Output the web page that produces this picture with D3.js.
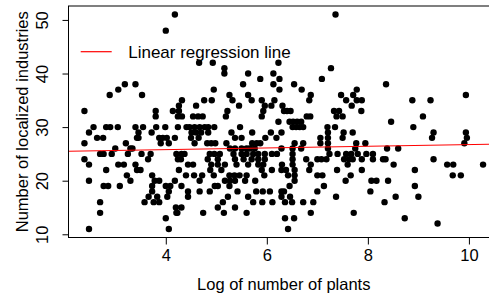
<!DOCTYPE html>
<html>
<head>
<meta charset="utf-8">
<script src="https://cdn.jsdelivr.net/npm/d3@7"></script>
<style>
  body { margin: 0; background: #fff; }
  svg { display: block; }
  text { font-family: "Liberation Sans", Arial, sans-serif; fill: #000; }
</style>
</head>
<body>
<svg id="chart" width="489" height="294"></svg>
<script>
// x: log of number of plants, y: number of localized industries (one entry per point, same order)
const logPlants = [
  4.0, 4.18, 7.36, 7.27, 7.09, 8.36, 9.94,
  2.39, 2.89, 3.06, 3.19, 3.4, 3.53, 3.8, 3.8,
  2.57, 2.48, 2.39, 2.64, 2.76, 2.82, 2.9, 3.05, 3.4, 3.55, 3.46, 3.46, 3.72, 3.81, 3.99,
  3.87, 3.94, 4.02, 3.9, 4.06, 4.18, 3.21, 3.3, 3.43, 3.0, 3.34,
  2.7, 2.77, 2.93, 3.25, 3.52, 3.7, 3.65, 2.39, 2.48, 2.82, 3.06, 3.17, 3.4, 3.43, 3.5, 3.23, 3.3, 2.48,
  2.77, 2.86, 3.09, 3.73, 3.78, 3.87, 3.73, 3.73, 4.0, 4.09, 4.06, 4.03,
  3.58, 3.66, 3.83, 3.87, 3.76, 2.7, 2.7, 2.48, 4.0, 4.06, 4.2, 4.21,
  4.66, 4.93, 5.16, 5.16, 5.63, 5.87, 6.13, 6.25, 6.13, 6.25, 5.53, 6.54, 6.69, 6.23,
  4.95, 4.76, 4.91, 4.6, 5.26, 5.32, 5.45, 5.63, 5.7, 5.9, 5.96, 6.09, 6.15, 5.9, 5.93, 5.19, 5.22, 6.34, 6.47, 6.4,
  6.23, 6.45, 6.52, 6.6, 6.68, 6.79, 6.86, 6.87, 6.84, 5.47, 6.31,
  4.54, 4.64, 4.73, 4.32, 4.26, 4.14, 4.26, 4.24, 4.32,
  4.24, 4.41, 4.47, 4.57, 4.67, 4.77, 4.84, 4.96,
  4.51, 4.6, 4.7, 4.84, 4.5, 4.65, 4.57,
  5.3, 5.37, 5.5, 5.71, 5.97, 6.08, 6.19, 6.29,
  4.82, 4.9, 4.98, 5.2, 5.27, 5.37, 5.71, 5.8, 5.87, 5.5, 5.6, 5.66, 5.76,
  4.21, 4.31, 4.37, 4.87, 4.96, 5.07, 5.34, 5.5, 5.6, 5.73, 5.83, 5.96, 6.1, 6.2,
  4.24, 4.3, 4.83, 5.03, 5.37, 5.54, 5.7, 5.83, 5.96,
  4.44, 4.54, 4.9, 5.03, 5.17, 5.4, 5.63, 5.83, 5.93, 6.3,
  4.26, 4.4, 4.56, 4.72, 4.88, 4.95, 5.1, 5.26, 5.36, 5.46, 5.6, 5.9, 5.95, 6.1,
  4.18, 4.67, 5.17, 5.27, 5.37, 5.57, 5.77,
  4.31, 4.44, 4.67, 4.87, 4.97, 5.03, 5.26, 5.42, 5.79, 5.92, 6.06, 6.29,
  4.44, 5.13, 5.23, 5.63, 5.73, 5.91, 6.11,
  5.37, 5.03, 5.15, 4.31, 4.23, 4.74, 5.6, 6.36,
  6.87, 6.54, 6.42, 6.72, 6.92, 7.0, 6.46, 6.5, 6.34,
  6.51, 6.58, 6.65, 6.72,
  7.21, 7.21, 7.06, 7.21, 7.06, 7.52, 7.5, 7.7, 7.77, 7.95,
  6.29, 6.55, 6.72, 6.51, 6.68,
  7.21, 7.24, 7.4, 7.57, 7.67, 7.75, 7.8, 7.97, 8.1, 8.1, 8.3, 8.38,
  6.51, 6.51, 6.51, 6.55, 6.55, 6.55,
  6.78, 7.0, 7.08, 7.18, 6.87, 6.84, 7.39, 7.53, 7.6, 7.63, 7.7, 7.88, 7.88,
  7.0, 7.1, 7.13, 7.56, 7.66, 8.07, 8.17, 8.4, 6.29, 6.38, 6.42,
  6.45, 6.29, 6.36, 7.37, 8.05, 7.72, 8.33,
  7.47, 7.57, 7.71, 7.78, 7.78, 7.88, 7.68, 7.87, 7.33, 7.43, 7.38, 7.5, 8.88, 9.24, 9.09, 8.46, 7.2, 7.35, 8.9,
  9.3, 9.27, 9.94, 9.96, 9.91, 8.6, 8.35, 8.51, 9.3, 9.57, 9.69, 10.28, 8.93, 9.68, 9.84, 8.93, 8.55, 9.0, 8.73, 9.38
];

const industries = [
  48, 51, 51, 41, 39, 38, 36,
  33, 36, 37, 38, 38, 36, 33, 32,
  30, 29, 27, 28, 28, 30, 30, 30, 30, 30, 29, 28, 29, 30, 30,
  28, 28, 28, 27, 27, 28, 27, 26, 28, 26, 26,
  25, 25, 25, 25, 25, 25, 24, 24, 23, 22, 23, 23, 23, 22, 22, 21, 20, 20,
  19, 19, 19, 21, 20, 20, 19, 18, 19, 19, 18, 17,
  16, 17, 17, 16, 16, 16, 14, 11, 13, 11, 15, 14,
  42, 42, 41, 40, 40, 39, 40, 39, 38, 37, 38, 38, 37, 42,
  37, 35, 35, 34, 36, 35, 34, 36, 35, 35, 34, 34, 35, 32, 33, 32, 33, 33, 33, 33,
  31, 31, 31, 31, 31, 32, 32, 36, 35, 30, 34,
  32, 32, 32, 35, 34, 33, 33, 32, 32,
  30, 30, 30, 30, 30, 30, 30, 30,
  29, 29, 29, 29, 28, 28, 27,
  29, 28, 28, 29, 28, 29, 28, 29,
  27, 27, 27, 27, 26, 26, 27, 27, 27, 26, 26, 26, 26,
  25, 25, 25, 25, 25, 25, 25, 25, 25, 25, 25, 25, 25, 25,
  24, 24, 24, 24, 24, 24, 24, 24, 24,
  23, 23, 23, 23, 23, 23, 23, 23, 23, 23,
  22, 21, 21, 21, 22, 21, 22, 21, 21, 21, 21, 22, 21, 22,
  20, 20, 20, 20, 20, 20, 20,
  19, 18, 18, 18, 19, 19, 19, 18, 18, 18, 18, 18,
  17, 16, 17, 17, 16, 16, 16,
  15, 15, 14, 15, 14, 14, 14, 13,
  14, 13, 11, 16, 16, 18, 17, 16, 18,
  30, 30, 30, 30,
  29, 28, 28, 27, 27, 29, 28, 29, 27, 27,
  26, 27, 27, 26, 26,
  26, 25, 25, 25, 25, 26, 25, 25, 25, 24, 24, 26,
  25, 24, 23, 22, 21, 20,
  24, 24, 24, 24, 23, 22, 22, 24, 23, 24, 24, 24, 22,
  21, 21, 19, 20, 21, 20, 20, 20, 22, 22, 21,
  19, 17, 16, 17, 18, 14, 16,
  36, 35, 36, 37, 35, 35, 34, 33, 33, 33, 32, 32, 35, 35, 32, 31, 30, 30, 30,
  29, 28, 29, 28, 27, 26, 24, 23, 24, 23, 23, 23, 22, 21, 21, 19, 17, 17, 13, 12
];

const xTicks = [4, 6, 8, 10];
const yTicks = [10, 20, 30, 40, 50];
const lmCoef = { intercept: 25.17, slope: 0.157 };
const legendLabel = "Linear regression line";

if (logPlants.length !== industries.length) console.error("length mismatch", logPlants.length, industries.length);

const points = logPlants.map((x, i) => ({ x: x, y: industries[i] }));

// plot region (right side of the box runs past the picture edge, like the original crop)
const plot = { left: 68.5, right: 499, top: 6, bottom: 237.5 };

// R style axis range: data extent padded by 4% on each side
function pad(ext) {
  const d = (ext[1] - ext[0]) * 0.04;
  return [ext[0] - d, ext[1] + d];
}

const xScale = d3.scaleLinear()
  .domain(pad(d3.extent(points, d => d.x)))
  .range([plot.left, plot.right]);

const yScale = d3.scaleLinear()
  .domain(pad(d3.extent(points, d => d.y)))
  .range([plot.bottom, plot.top]);

const svg = d3.select("#chart");
const fontSize = 16.5;

svg.append("defs").append("clipPath")
  .attr("id", "plotclip")
  .append("rect")
  .attr("x", plot.left)
  .attr("y", plot.top)
  .attr("width", plot.right - plot.left)
  .attr("height", plot.bottom - plot.top);

// points
svg.append("g")
  .attr("clip-path", "url(#plotclip)")
  .selectAll("circle")
  .data(points)
  .join("circle")
  .attr("cx", d => xScale(d.x))
  .attr("cy", d => yScale(d.y))
  .attr("r", 3.2)
  .attr("fill", "#000");

// regression line across the whole plot region
const xd = xScale.domain();
svg.append("line")
  .attr("clip-path", "url(#plotclip)")
  .attr("x1", xScale(xd[0]))
  .attr("y1", yScale(lmCoef.intercept + lmCoef.slope * xd[0]))
  .attr("x2", xScale(xd[1]))
  .attr("y2", yScale(lmCoef.intercept + lmCoef.slope * xd[1]))
  .attr("stroke", "#ff0000")
  .attr("stroke-width", 1.2);

// box
svg.append("rect")
  .attr("x", plot.left)
  .attr("y", plot.top)
  .attr("width", plot.right - plot.left)
  .attr("height", plot.bottom - plot.top)
  .attr("fill", "none")
  .attr("stroke", "#000")
  .attr("stroke-width", 1);

// x axis
svg.append("g")
  .attr("transform", "translate(0," + plot.bottom + ")")
  .call(d3.axisBottom(xScale).tickValues(xTicks).tickSize(7).tickSizeOuter(0).tickPadding(5))
  .call(g => g.select(".domain").remove())
  .call(g => g.selectAll(".tick line").attr("stroke", "#000").attr("stroke-width", 1))
  .call(g => g.selectAll(".tick text")
    .attr("font-family", "Liberation Sans, Arial, sans-serif")
    .attr("font-size", fontSize)
    .attr("fill", "#000"));

// y axis, labels turned parallel to the axis
svg.append("g")
  .attr("transform", "translate(" + plot.left + ",0)")
  .call(d3.axisLeft(yScale).tickValues(yTicks).tickSize(6).tickSizeOuter(0))
  .call(g => g.select(".domain").remove())
  .call(g => g.selectAll(".tick line").attr("stroke", "#000").attr("stroke-width", 1))
  .call(g => g.selectAll(".tick text")
    .attr("transform", "rotate(-90)")
    .attr("x", 0)
    .attr("y", -20.5)
    .attr("dy", 0)
    .attr("text-anchor", "middle")
    .attr("font-family", "Liberation Sans, Arial, sans-serif")
    .attr("font-size", fontSize)
    .attr("fill", "#000"));

// axis titles
svg.append("text")
  .attr("x", (plot.left + plot.right) / 2)
  .attr("y", 290)
  .attr("text-anchor", "middle")
  .style("font-size", fontSize + "px")
  .text("Log of number of plants");

svg.append("text")
  .attr("transform", "translate(28," + ((plot.top + plot.bottom) / 2) + ") rotate(-90)")
  .attr("text-anchor", "middle")
  .style("font-size", fontSize + "px")
  .text("Number of localized industries");

// legend (no frame)
const legend = svg.append("g").attr("transform", "translate(80.7,51.7)");
legend.append("line")
  .attr("x1", 0).attr("x2", 31)
  .attr("y1", 0).attr("y2", 0)
  .attr("stroke", "#ff0000")
  .attr("stroke-width", 1.2);
legend.append("text")
  .attr("x", 47.5)
  .attr("y", 6.2)
  .style("font-size", "17px")
  .text(legendLabel);
</script>
</body>
</html>
